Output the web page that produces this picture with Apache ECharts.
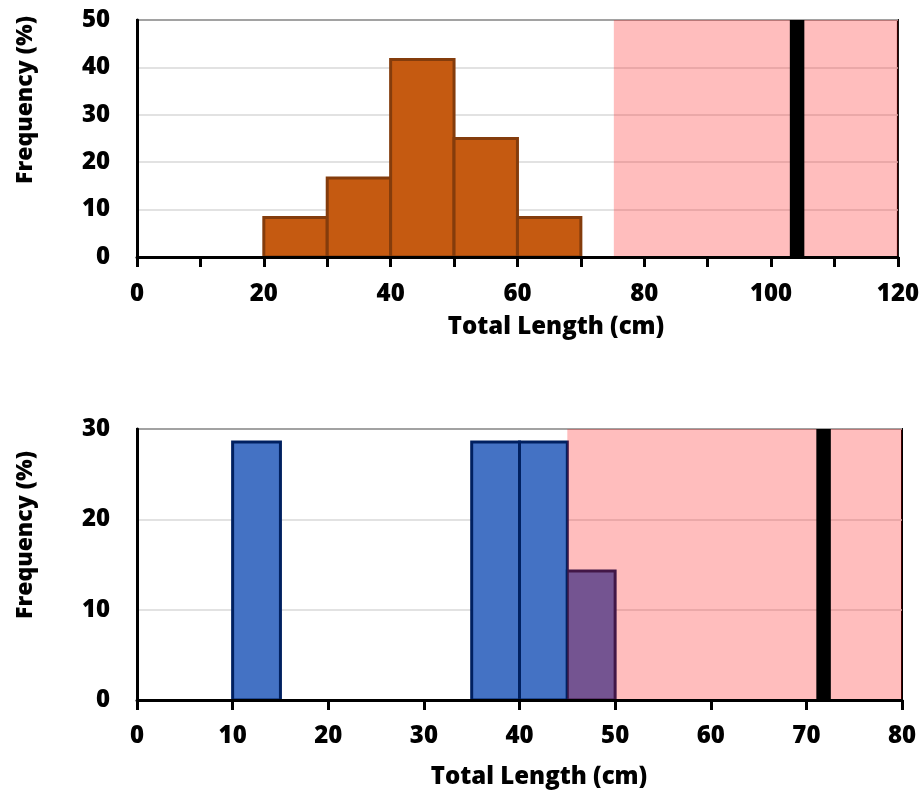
<!DOCTYPE html>
<html>
<head>
<meta charset="utf-8">
<title>Total Length histograms</title>
<script src="https://cdn.jsdelivr.net/npm/echarts@6/dist/echarts.min.js"></script>
<style>
  html, body { margin: 0; padding: 0; background: #fff; }
  #chart { width: 922px; height: 791px; }
</style>
</head>
<body>
<div id="chart"></div>
<script>
// top panel
var topBinStart = [20, 30, 40, 50, 60];
var topBinEnd = [30, 40, 50, 60, 70];
var topFreq = [8.33, 16.67, 41.67, 25, 8.33];
var topShade = [75.2, 120];
var topMarker = 104.1;

// bottom panel
var botBinStart = [10, 35, 40, 45];
var botBinEnd = [15, 40, 45, 50];
var botFreq = [28.57, 28.57, 28.57, 14.29];
var botShade = [45, 80];
var botMarker = 71.8;

var FONT = '"Open Sans", sans-serif';
var WEIGHT = 800;

function bins(starts, ends, vals) {
  return starts.map(function (s, i) { return [s, ends[i], vals[i]]; });
}

function histBars(fill, stroke) {
  return function (params, api) {
    var a = api.coord([api.value(0), api.value(2)]);
    var b = api.coord([api.value(1), 0]);
    return {
      type: 'rect',
      shape: { x: a[0], y: a[1], width: b[0] - a[0], height: b[1] - a[1] },
      style: { fill: fill, stroke: stroke, lineWidth: 3 }
    };
  };
}

function shadeRect(ymax) {
  return function (params, api) {
    var a = api.coord([api.value(0), ymax]);
    var b = api.coord([api.value(1), 0]);
    return {
      type: 'rect',
      shape: { x: a[0], y: a[1], width: b[0] - a[0], height: b[1] - a[1] },
      style: { fill: 'rgba(255,0,0,0.26)' }
    };
  };
}

function markerLine(ymax) {
  return function (params, api) {
    var a = api.coord([api.value(0), ymax]);
    var b = api.coord([api.value(0), 0]);
    return {
      type: 'line',
      shape: { x1: a[0], y1: a[1], x2: b[0], y2: b[1] },
      style: { stroke: '#000', lineWidth: 14.5 }
    };
  };
}

function xAxisOpt(idx, max, labelEvery, margin) {
  return {
    type: 'value', gridIndex: idx, min: 0, max: max, interval: 10, z: 10,
    axisLine: { show: true, onZero: false, lineStyle: { color: '#000', width: 3 } },
    axisTick: { show: true, inside: false, length: 10, lineStyle: { color: '#000', width: 3 } },
    axisLabel: {
      margin: margin, color: '#000', fontFamily: FONT, fontWeight: WEIGHT, fontSize: 24,
      formatter: function (v) { return v % labelEvery === 0 ? String(v) : ''; }
    },
    splitLine: { show: false }
  };
}

function yAxisOpt(idx, max) {
  return {
    type: 'value', gridIndex: idx, min: 0, max: max, interval: 10,
    axisLine: { show: true, lineStyle: { color: '#000', width: 3 } },
    axisTick: { show: false },
    axisLabel: { margin: 27, color: '#000', fontFamily: FONT, fontWeight: WEIGHT, fontSize: 24 },
    splitLine: { show: true, lineStyle: { color: '#d9d9d9', width: 1.5 } }
  };
}

function title(txt, x, y, rot, size) {
  return {
    type: 'text', x: x, y: y, rotation: rot,
    style: { text: txt, font: WEIGHT + ' ' + size + 'px ' + FONT, fill: '#000', align: 'center', verticalAlign: 'middle' }
  };
}

var chart = echarts.init(document.getElementById('chart'));
chart.setOption({
  animation: false,
  grid: [
    { left: 137, right: 20, top: 20, height: 237, show: true, borderColor: '#000', borderWidth: 2 },
    { left: 137, right: 20, top: 429, height: 271, show: true, borderColor: '#000', borderWidth: 2 }
  ],
  xAxis: [xAxisOpt(0, 120, 20, 25), xAxisOpt(1, 80, 10, 24)],
  yAxis: [yAxisOpt(0, 50), yAxisOpt(1, 30)],
  graphic: [
    title('Frequency (%)', 25, 100, Math.PI / 2, 23),
    title('Frequency (%)', 25, 535, Math.PI / 2, 23),
    title('Total Length (cm)', 556, 327, 0, 24),
    title('Total Length (cm)', 539, 777, 0, 24)
  ],
  series: [
    { type: 'custom', xAxisIndex: 0, yAxisIndex: 0, z: 2, encode: { x: [0, 1], y: 2 },
      renderItem: histBars('#C55A11', '#843C0C'), data: bins(topBinStart, topBinEnd, topFreq) },
    { type: 'custom', xAxisIndex: 0, yAxisIndex: 0, z: 3, encode: { x: [0, 1] },
      renderItem: shadeRect(50), data: [topShade] },
    { type: 'custom', xAxisIndex: 0, yAxisIndex: 0, z: 4, encode: { x: 0 },
      renderItem: markerLine(50), data: [[topMarker]] },
    { type: 'custom', xAxisIndex: 1, yAxisIndex: 1, z: 2, encode: { x: [0, 1], y: 2 },
      renderItem: histBars('#4472C4', '#002060'), data: bins(botBinStart, botBinEnd, botFreq) },
    { type: 'custom', xAxisIndex: 1, yAxisIndex: 1, z: 3, encode: { x: [0, 1] },
      renderItem: shadeRect(30), data: [botShade] },
    { type: 'custom', xAxisIndex: 1, yAxisIndex: 1, z: 4, encode: { x: 0 },
      renderItem: markerLine(30), data: [[botMarker]] }
  ]
});
</script>
</body>
</html>
